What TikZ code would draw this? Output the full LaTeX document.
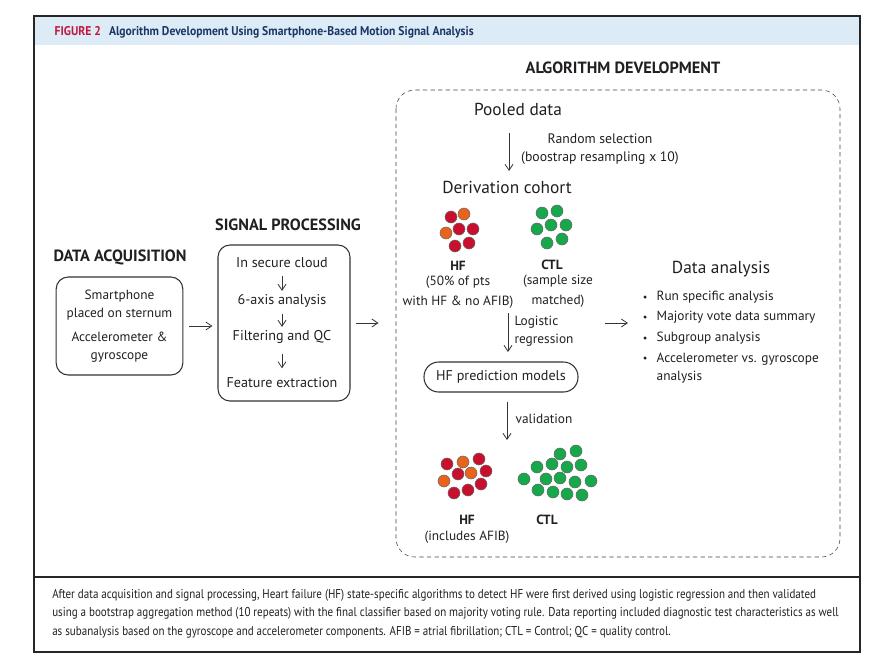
\documentclass[tikz,border=0pt]{standalone}
\usepackage{fontspec}
\setmainfont{PT Sans}
\newfontfamily\capfont[FakeStretch=0.86]{PT Sans}
\newfontfamily\headfont[FakeStretch=0.92]{PT Sans}
\usetikzlibrary{positioning, arrows.meta, calc}
\definecolor{headblue}{HTML}{DDEBF6}
\definecolor{headtext}{HTML}{1C3767}
\definecolor{figred}{HTML}{C0183C}
\definecolor{ink}{HTML}{231F20}
\definecolor{hfred}{HTML}{C8102E}
\definecolor{hforange}{HTML}{E8631C}
\definecolor{ctlgreen}{HTML}{16A84B}
\tikzset{
	x=0.75pt, y=-0.75pt, % one unit is one pixel of the reference, y downwards
	>={Straight Barb[length=4.5pt,width=6pt]}, % thin open arrow heads
	every node/.style={text=ink, font=\fontsize{10}{13.5}\selectfont},
	title/.style={font=\bfseries\fontsize{12.2}{14}\selectfont}, % the column headings
	big/.style={font=\fontsize{13}{15}\selectfont}, % pooled data, cohort, data analysis
	box/.style={draw=black!80, thick, rounded corners=9pt, align=center}, % rounded frames
	item/.style={inner sep=1pt, font=\fontsize{10.6}{13}\selectfont}, % steps in the signal box
	flow/.style={->, line width=0.6pt, draw=ink!90}, % all the arrows
	hf/.style={draw=black!60, fill=hfred}, % HF patient
	af/.style={draw=black!60, fill=hforange}, % HF patient with AFIB
	ctl/.style={draw=black!60, fill=ctlgreen}, % control
}

\begin{document}
\begin{tikzpicture}
	\useasboundingbox (0,0) rectangle (871,662);

	% frame, header and caption box
	\fill[headblue] (34,16) rectangle (860,45);
	\draw[thick, black!85] (34,16) rectangle (860,652);
	\draw[very thick, black!85] (34,577) -- (860,577);
	\node[anchor=west, text=headtext, font=\headfont\bfseries\fontsize{9.5}{11}\selectfont] (fig) at (50,32)
		{\textcolor{figred}{FIGURE 2}\hspace{6pt}Algorithm Development Using Smartphone-Based Motion Signal Analysis};

	% data acquisition
	\node[title] (tacq) at (120,257) {DATA ACQUISITION};
	\node[box, minimum width=95pt, minimum height=73.5pt] (acq) at (119.5,326)
		{Smartphone\\placed on sternum\\[5pt]Accelerometer \&\\gyroscope};

	% signal processing
	\node[title] (tsig) at (288,225) {SIGNAL PROCESSING};
	\node[box, minimum width=99pt, minimum height=117pt] (sig) at (284,323) {};
	\node[item] (sp1) at (282,263) {In secure cloud};
	\node[item] (sp2) at (282,301) {6-axis analysis};
	\node[item] (sp3) at (282,337) {Filtering and QC};
	\node[item] (sp4) at (282,383) {Feature extraction};

	% algorithm development
	\node[title] (talg) at (623,68) {ALGORITHM DEVELOPMENT};
	\draw[dashed, dash pattern=on 3.2pt off 2.5pt, black!75, rounded corners=14pt] (396,90) rectangle (840,557);
	\node[big] (pool) at (518,109) {Pooled data};
	\node[align=center, font=\fontsize{10.3}{13.5}\selectfont] (rand) at (600,149) {Random selection\\(boostrap resampling x 10)};
	\node[big] (deriv) at (507,187) {Derivation cohort};

	\node[font=\bfseries\fontsize{10}{13}\selectfont] (hf1) at (458,266) {HF};
	\node[align=center, below=-3pt of hf1, font=\fontsize{10}{15}\selectfont] (hf1t) {(50\% of pts\\with HF \& no AFIB)};
	\node[font=\bfseries\fontsize{10}{13}\selectfont] (ctl1) at (552,265) {CTL};
	\node[align=center, below=-3pt of ctl1, xshift=4.5pt, font=\fontsize{10}{15}\selectfont] (ctl1t) {(sample size\\matched)};

	\node[align=left] (logreg) at (544,331) {Logistic\\regression};
	\node[box, rounded corners=11pt, minimum width=115.5pt, minimum height=22.5pt, font=\fontsize{10.6}{13}\selectfont] (model) at (501,377) {HF prediction models};
	\node (valid) at (544,419) {validation};

	\node[font=\bfseries\fontsize{10}{13}\selectfont] (hf2) at (467,520) {HF};
	\node[below=-2pt of hf2] (hf2t) {(includes AFIB)};
	\node[font=\bfseries\fontsize{10}{13}\selectfont] (ctl2) at (547,520) {CTL};

	% data analysis
	\node[big] (dana) at (721,269) {Data analysis};
	\node[anchor=west] (da1) at (652,297) {Run specific analysis};
	\node[anchor=west] (da2) at (652,317) {Majority vote data summary};
	\node[anchor=west] (da3) at (652,338) {Subgroup analysis};
	\node[anchor=west, align=left] (da4) at (652,368) {Accelerometer vs. gyroscope\\analysis};
	\foreach \y in {297,317,338,358}
		\fill[ink] (645,\y) circle (1.3pt);

	% patient dots
	\foreach \x/\y in {451/217, 459/229, 473/229, 455/246, 469/243}
		\filldraw[hf] (\x,\y) circle (4.5pt);
	\foreach \x/\y in {464/214, 446/233}
		\filldraw[af] (\x,\y) circle (4.5pt);
	\foreach \x/\y in {542/213, 557/211, 537/229, 551/225, 566/225, 547/243, 562/239}
		\filldraw[ctl] (\x,\y) circle (4.5pt);
	\foreach \x/\y in {447/464, 479/459, 458/474, 486/471, 454/493, 468/490, 481/484}
		\filldraw[hf] (\x,\y) circle (4.5pt);
	\foreach \x/\y in {463/462, 471/473, 444/481}
		\filldraw[af] (\x,\y) circle (4.5pt);
	\foreach \x/\y in {560/454, 576/451, 537/467, 552/464, 567/467, 581/465, 524/479, 546/479,
		560/478, 575/482, 591/481, 538/490, 553/492, 567/494, 582/495}
		\filldraw[ctl] (\x,\y) circle (4.5pt);

	% arrows
	\coordinate (r1) at (509,133);
	\coordinate (r2) at (509,171);
	\coordinate (l1) at (508,313);
	\coordinate (l2) at (508,352);
	\coordinate (v2) at (507,440);
	\coordinate (a1) at (605,323);
	\coordinate (a2) at (628,323);
	\draw[flow, shorten <=4.5pt, shorten >=3.75pt] (acq.east) -- (sig.west |- acq.east);
	\draw[flow, shorten <=3.75pt, shorten >=13.5pt] (sig.east) -- ($(sig.east)+(46,0)$);
	\draw[flow, shorten <=4.5pt, shorten >=1.5pt] (sp1) -- (sp2);
	\draw[flow, shorten <=3.75pt, shorten >=1.5pt] (sp2) -- (sp3);
	\draw[flow, shorten <=6.75pt, shorten >=6pt] (sp3) -- (sp4);
	\draw[flow] (r1) -- (r2);
	\draw[flow] (l1) -- (l2);
	\draw[flow, shorten <=6.75pt] (model.south -| v2) -- (v2);
	\draw[flow] (a1) -- (a2);

	% caption
	\node[anchor=north west, align=left, inner sep=0pt, font=\capfont\fontsize{9.6}{13.9}\selectfont] (cap) at (52,589)
		{After data acquisition and signal processing, Heart failure (HF) state-specific algorithms to detect HF were first derived using logistic regression and then validated\\
		using a bootstrap aggregation method (10 repeats) with the final classifier based on majority voting rule. Data reporting included diagnostic test characteristics as well\\
		as subanalysis based on the gyroscope and accelerometer components. AFIB = atrial fibrillation; CTL = Control; QC = quality control.};
\end{tikzpicture}
\end{document}
